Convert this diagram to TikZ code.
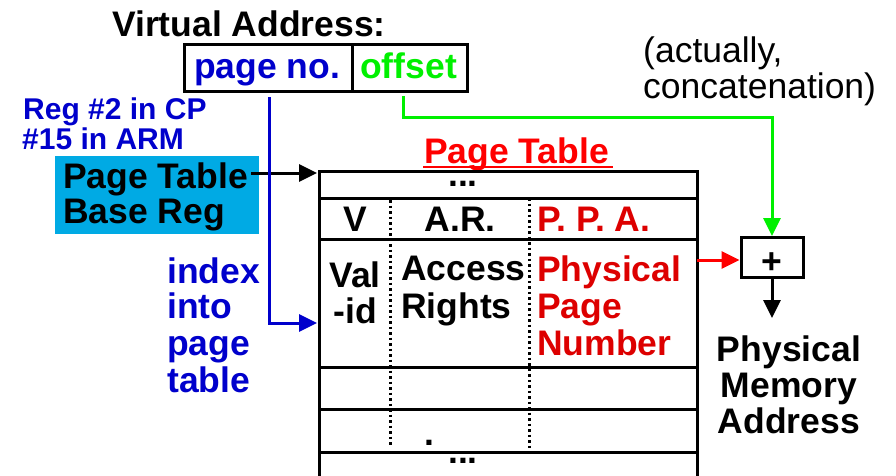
\documentclass[tikz,border=0pt]{standalone}
\usepackage{fontspec}
\setmainfont{Liberation Sans}
\usetikzlibrary{arrows.meta}
\definecolor{vblue}{RGB}{0,0,204}
\definecolor{vgreen}{RGB}{0,240,0}
\definecolor{vred}{RGB}{255,0,0}
\definecolor{dred}{RGB}{221,0,0}
\definecolor{cyanbox}{RGB}{0,170,228}
\begin{document}
\begin{tikzpicture}[x=1pt,y=-1pt,
  txtbig/.style={font=\fontsize{35.5}{36}\selectfont\bfseries, inner sep=0pt},
  txtsmall/.style={font=\fontsize{30}{30}\selectfont\bfseries, inner sep=0pt},
  txtplain/.style={font=\fontsize{35.5}{36}\selectfont, inner sep=0pt},
  framebox/.style={draw, line width=3pt, inner sep=0pt},
  arrowline/.style={line width=3pt, -{Triangle[length=18pt,width=17pt]}},
  rowline/.style={line width=3pt},
  dotline/.style={line width=3pt, dash pattern=on 2.6pt off 2.9pt}]
\useasboundingbox (0,0) rectangle (896,475);
\fill[white] (0,0) rectangle (896,475);

% virtual address
\node[txtbig, anchor=base west] (va) at (112,36) {Virtual Address:};
\node[framebox, minimum width=168pt, minimum height=47pt] (pnbox) at (268,68) {};
\node[framebox, minimum width=115pt, minimum height=47pt] (offbox) at (409.5,68) {};
\node[txtbig, vblue, anchor=base west] (pn) at (194,78) {page no.};
\node[txtbig, vgreen, anchor=base west] (off) at (360,78) {offset};

% register labels
\node[txtsmall, vblue, anchor=base west] (reg1) at (23,119) {Reg \#2 in CP};
\node[txtsmall, vblue, anchor=base west] (reg2) at (22,149) {\#15 in ARM};
\node[fill=cyanbox, minimum width=204pt, minimum height=78pt, inner sep=0pt, anchor=north west] (ptbr) at (55,156) {};
\node[txtbig, anchor=base west] (ptbr1) at (63,188) {Page Table};
\node[txtbig, anchor=base west] (ptbr2) at (63,223) {Base Reg};

% index label
\node[txtbig, vblue, anchor=base west] (ix1) at (167,283) {index};
\node[txtbig, vblue, anchor=base west] (ix2) at (167,318) {into};
\node[txtbig, vblue, anchor=base west] (ix3) at (167,355) {page};
\node[txtbig, vblue, anchor=base west] (ix4) at (167,392) {table};

% page table
\node[txtbig, vred, anchor=base west] (ttl) at (424,163) {Page Table};
\draw[vred, line width=2.5pt] (423,167) -- (613,167);
\node[framebox, minimum width=378pt, minimum height=320pt, anchor=north west] (pt) at (318,170) {};
\draw[rowline] (318,198) -- (696,198);
\draw[rowline] (318,239) -- (696,239);
\draw[rowline] (318,367) -- (696,367);
\draw[rowline] (318,409) -- (696,409);
\draw[rowline] (318,452) -- (696,452);
\draw[dotline] (390,200) -- (390,447);
\draw[dotline] (529,198) -- (529,450);
\node[txtbig, anchor=base] (dots1) at (463,186) {...};
\node[txtbig, anchor=base] (hv) at (355,231) {V};
\node[txtbig, anchor=base] (har) at (460,231) {A.R.};
\node[txtbig, dred, anchor=base west] (hppa) at (537,231) {P. P. A.};
\node[txtbig, anchor=base] (val1) at (355,287) {Val};
\node[txtbig, anchor=base] (val2) at (355,323) {-id};
\node[txtbig, anchor=base west] (ar1) at (401,280) {Access};
\node[txtbig, anchor=base west] (ar2) at (401,318) {Rights};
\node[txtbig, dred, anchor=base west] (ppn1) at (537,281) {Physical};
\node[txtbig, dred, anchor=base west] (ppn2) at (537,318) {Page};
\node[txtbig, dred, anchor=base west] (ppn3) at (537,355) {Number};
\node[txtbig, anchor=base] (dot) at (429,445) {.};
\node[txtbig, anchor=base] (dots2) at (463,463) {...};

% adder
\node[framebox, minimum width=62pt, minimum height=40pt] (plus) at (772,257.5) {};
\node[txtbig, anchor=center] (plustxt) at (772,263) {+};
\node[txtplain, anchor=base west] (act1) at (643,62) {(actually,};
\node[txtplain, anchor=base west] (act2) at (643,98) {concatenation)};
\node[txtbig, anchor=base] (pma1) at (789,361) {Physical};
\node[txtbig, anchor=base] (pma2) at (789,397) {Memory};
\node[txtbig, anchor=base] (pma3) at (789,433) {Address};

% connectors
\coordinate (ptbrout) at (251,173);
\coordinate (ptin) at (317,173);
\draw[arrowline] (ptbrout) -- (ptin);
\coordinate (bstart) at (269,97);
\coordinate (bend) at (317,323);
\draw[arrowline, vblue] (bstart) |- (bend);
\coordinate (gstart) at (403,96);
\coordinate (gturn) at (403,117);
\draw[arrowline, vgreen] (gstart) -- (gturn) -| (plus.north);
\coordinate (rstart) at (697,260);
\draw[arrowline, vred] (rstart) -- (rstart -| plus.west);
\coordinate (pmaout) at (772,318);
\draw[arrowline] (plus.south) -- (pmaout);
\end{tikzpicture}
\end{document}
